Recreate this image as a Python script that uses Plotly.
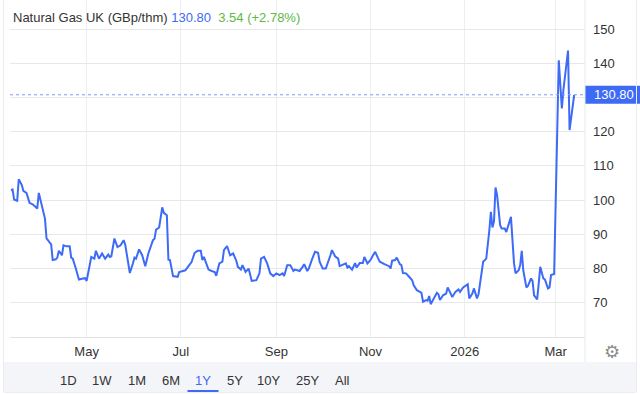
import plotly.graph_objects as go

# ---------------- data ----------------
dates = [
    "2025-03-13", "2025-03-14", "2025-03-15", "2025-03-17", "2025-03-18", "2025-03-20", "2025-03-21",
    "2025-03-23", "2025-03-25", "2025-03-27", "2025-03-29", "2025-03-30", "2025-03-31",
    "2025-04-02", "2025-04-04", "2025-04-05", "2025-04-07", "2025-04-08", "2025-04-09", "2025-04-11",
    "2025-04-12", "2025-04-13", "2025-04-15", "2025-04-16", "2025-04-18", "2025-04-20", "2025-04-21",
    "2025-04-22", "2025-04-24", "2025-04-26", "2025-04-28", "2025-04-30",
    "2025-05-01", "2025-05-02", "2025-05-04", "2025-05-06", "2025-05-07", "2025-05-09", "2025-05-11",
    "2025-05-13", "2025-05-15", "2025-05-16", "2025-05-17", "2025-05-19", "2025-05-21", "2025-05-23",
    "2025-05-25", "2025-05-26", "2025-05-29", "2025-05-31",
    "2025-06-01", "2025-06-02", "2025-06-04", "2025-06-06", "2025-06-08", "2025-06-10", "2025-06-13",
    "2025-06-14", "2025-06-15", "2025-06-17", "2025-06-19", "2025-06-20", "2025-06-22", "2025-06-23",
    "2025-06-24", "2025-06-26", "2025-06-28", "2025-06-29", "2025-06-30",
    "2025-07-02", "2025-07-04", "2025-07-06", "2025-07-08", "2025-07-10", "2025-07-12", "2025-07-14",
    "2025-07-15", "2025-07-16", "2025-07-17", "2025-07-19", "2025-07-21", "2025-07-23", "2025-07-24",
    "2025-07-26", "2025-07-28", "2025-07-29", "2025-07-31",
    "2025-08-02", "2025-08-04", "2025-08-06", "2025-08-07", "2025-08-09", "2025-08-10", "2025-08-12",
    "2025-08-14", "2025-08-16", "2025-08-19", "2025-08-21", "2025-08-22", "2025-08-24", "2025-08-26",
    "2025-08-28", "2025-08-30",
    "2025-09-01", "2025-09-03", "2025-09-05", "2025-09-06", "2025-09-08", "2025-09-10", "2025-09-12",
    "2025-09-13", "2025-09-16", "2025-09-18", "2025-09-19", "2025-09-21", "2025-09-22", "2025-09-24",
    "2025-09-26", "2025-09-28", "2025-09-29",
    "2025-10-01", "2025-10-03", "2025-10-06", "2025-10-07", "2025-10-09", "2025-10-11", "2025-10-12",
    "2025-10-14", "2025-10-16", "2025-10-17", "2025-10-18", "2025-10-20", "2025-10-22", "2025-10-23",
    "2025-10-25", "2025-10-27", "2025-10-28", "2025-10-30",
    "2025-11-01", "2025-11-02", "2025-11-04", "2025-11-06", "2025-11-07", "2025-11-10", "2025-11-12",
    "2025-11-13", "2025-11-14", "2025-11-15", "2025-11-17", "2025-11-18", "2025-11-20", "2025-11-21",
    "2025-11-22", "2025-11-24", "2025-11-26", "2025-11-28", "2025-11-29",
    "2025-12-01", "2025-12-03", "2025-12-04", "2025-12-05", "2025-12-07", "2025-12-08", "2025-12-09",
    "2025-12-10", "2025-12-12", "2025-12-14", "2025-12-15", "2025-12-16", "2025-12-18", "2025-12-20",
    "2025-12-21", "2025-12-23", "2025-12-24", "2025-12-26", "2025-12-28", "2025-12-29", "2025-12-31",
    "2026-01-02", "2026-01-03", "2026-01-04", "2026-01-06", "2026-01-07", "2026-01-09", "2026-01-10",
    "2026-01-12", "2026-01-13", "2026-01-15", "2026-01-16", "2026-01-17", "2026-01-18", "2026-01-19",
    "2026-01-20", "2026-01-21", "2026-01-22", "2026-01-24", "2026-01-25", "2026-01-27", "2026-01-28",
    "2026-01-30", "2026-01-31",
    "2026-02-02", "2026-02-03", "2026-02-05", "2026-02-06", "2026-02-07", "2026-02-08", "2026-02-10",
    "2026-02-11", "2026-02-13", "2026-02-14", "2026-02-15", "2026-02-17", "2026-02-18", "2026-02-19",
    "2026-02-21", "2026-02-22", "2026-02-24", "2026-02-25", "2026-02-26", "2026-02-28",
    "2026-03-03", "2026-03-05", "2026-03-06", "2026-03-09", "2026-03-10", "2026-03-12", "2026-03-13",
]

prices = [
    102.9, 103.1, 100.2, 99.8, 106.1, 104.4, 102.7, 102.1, 99.2, 98.8, 98.0, 97.5, 102.1,
    98.0, 94.6, 88.8, 87.8, 87.1, 82.5, 82.7, 83.2, 85.2, 83.9, 86.8, 86.5, 86.5, 83.2, 82.9, 80.0,
    76.8, 77.0, 77.2,
    76.4, 78.6, 83.4, 82.9, 85.2, 82.9, 84.4, 82.9, 84.1, 83.4, 83.6, 88.8, 86.3, 86.8, 88.3, 87.0,
    78.7, 81.5,
    83.2, 82.9, 85.6, 83.9, 80.7, 84.4, 88.3, 88.7, 91.4, 92.0, 97.9, 96.3, 95.6, 82.6, 82.5, 77.8,
    77.8, 77.6, 79.0,
    79.2, 79.5, 80.7, 81.9, 84.6, 85.2, 85.2, 82.5, 83.4, 82.0, 79.7, 79.3, 79.0, 77.9, 81.5, 82.0,
    85.4, 86.6,
    83.9, 84.4, 82.3, 80.5, 79.7, 81.0, 79.0, 80.0, 76.4, 76.6, 78.6, 82.9, 83.4, 81.5, 78.6, 77.8,
    78.6, 78.1, 78.6, 77.8, 81.0, 81.0, 79.3, 79.7, 79.3, 80.5, 81.3, 79.3, 80.0, 82.6, 84.9, 84.6,
    82.0,
    80.0, 80.0, 83.9, 85.4, 83.6, 82.9, 80.7, 81.0, 81.5, 80.3, 80.7, 79.7, 81.6, 80.3, 81.6, 81.6,
    83.4, 81.5,
    82.5, 83.4, 84.9, 82.9, 82.0, 81.3, 81.0, 80.7, 80.0, 82.3, 82.5, 83.2, 81.3, 81.0, 78.7, 78.6,
    77.6, 76.6, 75.1,
    73.7, 73.2, 72.9, 70.3, 70.8, 70.6, 72.0, 69.6, 71.3, 72.9, 72.5, 70.8, 72.2, 72.7, 74.5, 72.7,
    71.7, 73.2, 73.9, 73.2, 74.5,
    75.1, 75.4, 71.3, 72.7, 74.2, 71.3, 72.5, 78.6, 82.0, 82.9, 86.3, 91.2, 96.6, 92.0, 93.7, 103.7,
    101.5, 92.7, 91.7, 91.7, 90.7, 93.7, 95.1,
    81.5, 78.6, 79.5, 81.0, 85.2, 79.5, 74.5, 74.9, 77.1, 76.4, 72.2, 71.0, 75.6, 80.5, 77.1, 76.8,
    74.2, 74.5, 78.1, 78.4,
    140.9, 126.8, 132.2, 143.7, 120.5, 127.26, 130.80,
]
assert len(dates) == len(prices)

title_text = "Natural Gas UK (GBp/thm)"
last_price = "130.80"
change_text = "3.54 (+2.78%)"

x_tick_vals = ["2025-05-01", "2025-07-01", "2025-09-01", "2025-11-01", "2026-01-01", "2026-03-01"]
x_tick_text = ["May", "Jul", "Sep", "Nov", "2026", "Mar"]
y_tick_vals = [70, 80, 90, 100, 110, 120, 130, 140, 150]
# the 130 label sits under the last-price tag, so it is left blank
y_tick_text = ["70", "80", "90", "100", "110", "120", "", "140", "150"]
range_buttons = ["1D", "1W", "1M", "6M", "1Y", "5Y", "10Y", "25Y", "All"]
active_button = "1Y"

# ---------------- styling / layout ----------------
W, H = 640, 394
L, R, T, B = 10, 55, 0, 57
PW, PH = W - L - R, H - T - B
BLUE = "#3d6bf5"
GREEN = "#5cb946"
TEXT = "#333333"
FONT = "Liberation Sans, Arial, Helvetica, sans-serif"
Y_RANGE = [60, 158.5]


def px(x):
    return (x - L) / PW


def py(y):
    return (H - B - y) / PH


fig = go.Figure()
fig.add_trace(go.Scatter(
    x=dates, y=prices, mode="lines",
    line=dict(color=BLUE, width=2),
    hoverinfo="skip", showlegend=False,
))

shapes = [
    # dotted last-price line
    dict(type="line", xref="paper", yref="y", x0=0, x1=1, y0=float(last_price), y1=float(last_price),
         line=dict(color="#7d9cf7", width=1, dash="dot")),
    # last-price tag
    dict(type="rect", xref="paper", yref="y", x0=1, x1=px(W), y0=float(last_price) - 2.63,
         y1=float(last_price) + 2.63, fillcolor=BLUE, line=dict(width=0)),
    # right separator
    dict(type="line", xref="paper", yref="paper", x0=1, x1=1, y0=1, y1=py(362),
         line=dict(color="#e4e8ec", width=1)),
    # bottom button band
    dict(type="rect", xref="paper", yref="paper", x0=px(3), x1=px(637), y0=py(362), y1=py(392),
         fillcolor="#f4f5f8", line=dict(width=0), layer="below"),
    # outer left / right / bottom borders
    dict(type="line", xref="paper", yref="paper", x0=px(3.5), x1=px(3.5), y0=py(0), y1=py(392),
         line=dict(color="#ececec", width=1)),
    dict(type="line", xref="paper", yref="paper", x0=px(636.5), x1=px(636.5), y0=py(0), y1=py(392),
         line=dict(color="#ececec", width=1)),
    dict(type="line", xref="paper", yref="paper", x0=px(3.5), x1=px(636.5), y0=py(392.5), y1=py(392.5),
         line=dict(color="#ececec", width=1)),
]

annotations = [
    dict(xref="paper", yref="paper", x=px(11), y=py(18), xanchor="left", yanchor="middle",
         showarrow=False, font=dict(size=13, color=TEXT, family=FONT),
         text=f"{title_text} <span style='color:{BLUE}'>{last_price}</span>&nbsp;&nbsp;"
              f"<span style='color:{GREEN}'>{change_text}</span>"),
    dict(xref="paper", yref="y", x=px(592), y=float(last_price), xanchor="left", yanchor="middle",
         showarrow=False, text=last_price, font=dict(size=13, color="white", family=FONT)),
    dict(xref="paper", yref="paper", x=px(612), y=py(351), xanchor="center", yanchor="middle",
         showarrow=False, text="\u2699", font=dict(size=18, color="#8c8c8c", family="DejaVu Sans")),
]

button_x = [68, 102, 137, 171, 203, 235, 268, 307, 342]
for label, bx in zip(range_buttons, button_x):
    annotations.append(dict(
        xref="paper", yref="paper", x=px(bx), y=py(380), xanchor="center", yanchor="middle",
        showarrow=False, text=label,
        font=dict(size=13, color=BLUE if label == active_button else TEXT, family=FONT)))
    if label == active_button:
        shapes.append(dict(type="line", xref="paper", yref="paper", x0=px(bx - 15.5), x1=px(bx + 15.5),
                           y0=py(391), y1=py(391), line=dict(color=BLUE, width=2)))

fig.update_layout(
    width=W, height=H,
    margin=dict(l=L, r=R, t=T, b=B, pad=0),
    paper_bgcolor="white", plot_bgcolor="white",
    font=dict(family=FONT, size=13, color=TEXT),
    showlegend=False, hovermode=False,
    shapes=shapes, annotations=annotations,
    xaxis=dict(
        type="date", range=["2025-03-12 08:00", "2026-03-20"],
        tickmode="array", tickvals=x_tick_vals, ticktext=x_tick_text,
        showgrid=True, gridcolor="#e9eff2", gridwidth=1,
        showline=True, linecolor="#e2e2e2", linewidth=1,
        ticks="", ticklabelstandoff=2, zeroline=False,
        tickfont=dict(size=13, color=TEXT),
        fixedrange=True,
    ),
    yaxis=dict(
        side="right", range=Y_RANGE,
        tickmode="array", tickvals=y_tick_vals, ticktext=y_tick_text,
        showgrid=True, gridcolor="#e8e8e8", gridwidth=1,
        showline=False, ticks="", ticklabelstandoff=7, zeroline=False,
        tickfont=dict(size=13, color=TEXT),
        fixedrange=True,
    ),
)

fig.write_html("out.html", config={"displayModeBar": False})
